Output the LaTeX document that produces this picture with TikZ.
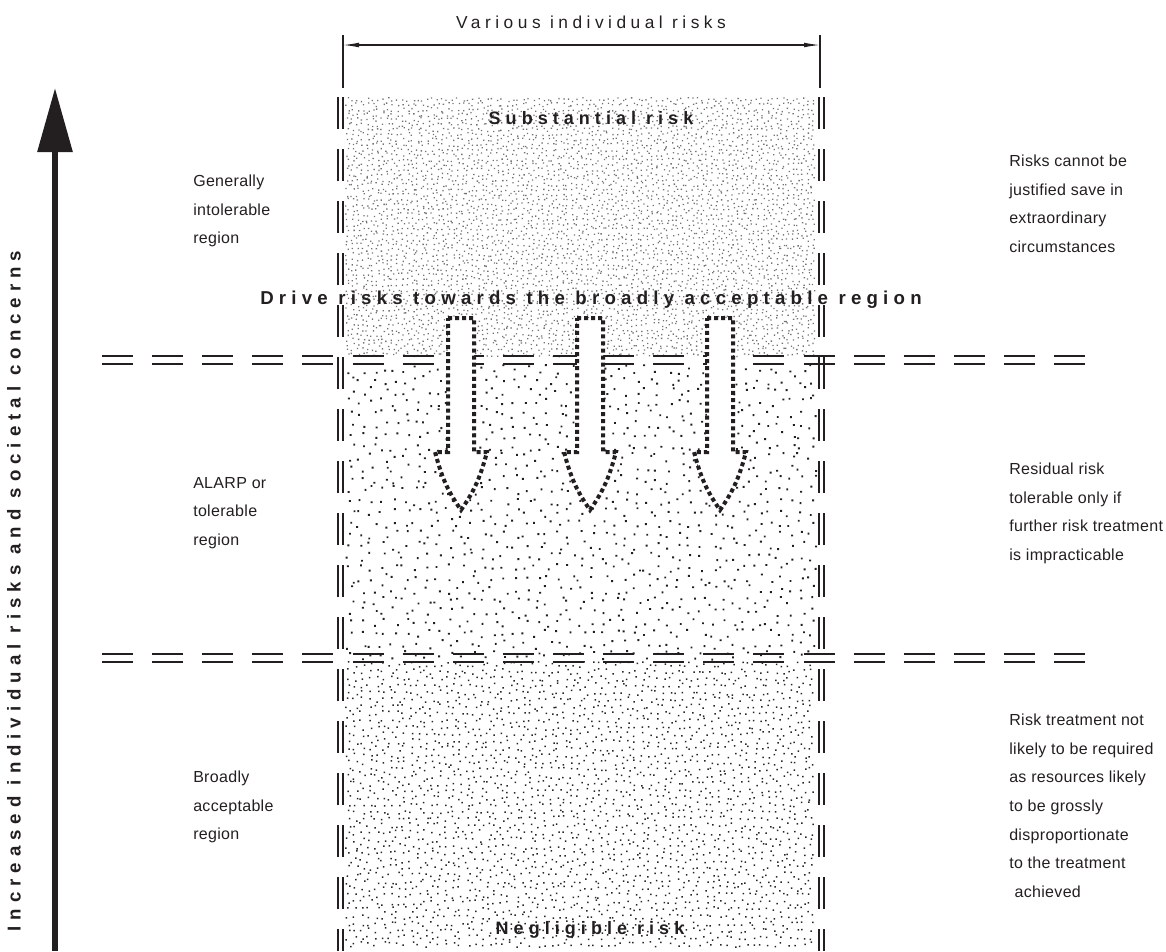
\documentclass[tikz,border=0pt]{standalone}
\usepackage{fontspec}
\setmainfont{Liberation Sans}
\newfontfamily\lblfont{Liberation Sans}[LetterSpace=2]
\newfontfamily\widelblfont{Liberation Sans}[LetterSpace=26]
\newfontfamily\bflblfont{Liberation Sans Bold}[LetterSpace=28]
\newfontfamily\axisfont{Liberation Sans Bold}[LetterSpace=32]
\usetikzlibrary{arrows.meta}
\definecolor{ink}{HTML}{231F20}

\tikzset{
  lbl/.style={font=\lblfont\fontsize{12pt}{21.4pt}\selectfont, align=left,
    anchor=north west, inner sep=0pt, text=ink},
  toplbl/.style={font=\widelblfont\fontsize{13pt}{15pt}\selectfont, inner sep=0pt, text=ink},
  bflbl/.style={font=\bflblfont\fontsize{13.5pt}{15pt}\selectfont, inner sep=0pt, text=ink},
  drivelbl/.style={font=\bflblfont\fontsize{14pt}{16pt}\selectfont, inner sep=0pt, text=ink},
  axislbl/.style={font=\axisfont\fontsize{14pt}{16pt}\selectfont, inner sep=0pt, text=ink},
  colline/.style={draw=ink, line width=1.5pt, dash pattern=on 24pt off 15pt},
  sepline/.style={draw=ink, line width=2.2pt, dash pattern=on 23.25pt off 14.33pt},
  droparrow/.style={draw=ink, fill=white, line width=3pt, dash pattern=on 3pt off 2.3pt},
  dimtip/.tip={Latex[length=12pt,width=3.5pt]},
}

\begin{document}
\begin{tikzpicture}[x=0.75pt,y=-0.75pt]
  \useasboundingbox (0,0) rectangle (1166,951);

  % stippled bands: one jittered dot per grid cell
  \pgfmathsetseed{2024}
  \fill[black!55] \foreach \x in {345,350,...,812}{ \foreach \y in {97,102,...,352}{
      ({\x+4*rnd},{\y+4*rnd}) rectangle ++(1.3,1.3) } };
  \fill[ink] \foreach \x in {345,356,...,807}{ \foreach \y in {364,375,...,650}{
      ({\x+9*rnd},{\y+9*rnd}) rectangle ++(1.9,1.9) } };
  \fill[black!85] \foreach \x in {345,352,...,812}{ \foreach \y in {661,668,...,946}{
      ({\x+5.5*rnd},{\y+5.5*rnd}) rectangle ++(1.5,1.5) } };

  % horizontal region boundaries
  \foreach \y in {356,364,654,662}{
    \draw[sepline] (102,\y) -- (1086,\y);
  }

  % column edges (double dashed)
  \foreach \x in {338,343,819,824}{
    \draw[colline] (\x,97) -- (\x,951);
  }

  % dimension line
  \coordinate (dimL) at (343,45);
  \coordinate (dimR) at (820,45);
  \draw[ink, line width=0.8pt] (343,35) -- (343,88) (820,35) -- (820,88);
  \draw[ink, line width=0.8pt, dimtip-dimtip] (dimL) -- (dimR);
  \node[toplbl, anchor=base] (various) at (591,28) {Various individual risks};

  % vertical axis
  \coordinate (axisBot) at (55,951);
  \coordinate (axisTop) at (55,88);
  \draw[ink, line width=4.5pt, -{Triangle[length=48pt,width=25.5pt]}] (axisBot) -- (axisTop);
  \node[axislbl, rotate=90] (axis) at (14,591) {Increased individual risks and societal concerns};

  % hollow dotted arrows
  \foreach \cx in {461, 590, 720}{
    \draw[droparrow] (\cx-13,318) -- (\cx+13,318) -- (\cx+13,452) -- (\cx+26,452)
      to[out=-105,in=55] (\cx,510) to[out=125,in=-75] (\cx-26,452)
      -- (\cx-13,452) -- cycle;
  }

  % band titles
  \node[bflbl, anchor=base] (subst) at (591,124) {Substantial risk};
  \node[drivelbl, anchor=base] (drive) at (591,304) {Drive risks towards the broadly acceptable region};
  \node[bflbl, anchor=base] (negl) at (590,934) {Negligible risk};

  % region names
  \node[lbl] (gen) at (193,175) {Generally\\intolerable\\region};
  \node[lbl] (alarp) at (193,477) {ALARP or\\tolerable\\region};
  \node[lbl] (broad) at (193,771) {Broadly\\acceptable\\region};

  % region descriptions
  \node[lbl] (desc1) at (1009,155) {Risks cannot be\\justified save in\\extraordinary\\circumstances};
  \node[lbl] (desc2) at (1009,463) {Residual risk\\tolerable only if\\further risk treatment\\is impracticable};
  \node[lbl] (desc3) at (1009,714) {Risk treatment not\\likely to be required\\as resources likely\\to be grossly\\disproportionate\\to the treatment\\\hspace*{4pt}achieved};
\end{tikzpicture}
\end{document}
